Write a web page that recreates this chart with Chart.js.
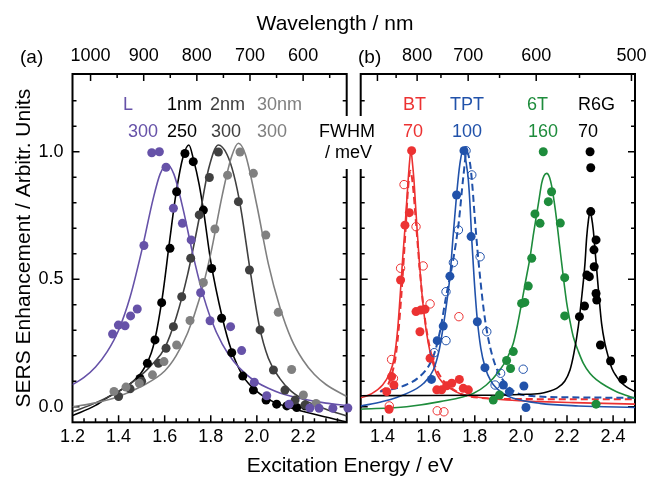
<!DOCTYPE html>
<html>
<head>
<meta charset="utf-8">
<script src="https://cdn.jsdelivr.net/npm/chart.js@4.4.1/dist/chart.umd.min.js"></script>
<style>
  html, body { margin: 0; padding: 0; background: #fff; }
  #wrap { position: relative; width: 647px; height: 477px; font-family: "Liberation Sans", Arial, sans-serif; }
  #wrap canvas { position: absolute; left: 0; top: 0; }
  .t { position: absolute; white-space: nowrap; line-height: 1; font-size: 18px; color: #000; }
  .big { font-size: 21px; transform: translateX(-50%); }
  .purple { color: #6652a8; }
  .dgray { color: #404040; }
  .gray { color: #808080; }
  .red { color: #ec3232; }
  .blue { color: #2152aa; }
  .green { color: #1e8c3c; }
  #fwhm { position: absolute; left: 316px; top: 116px; width: 62px; height: 53px; background: #fff; }
</style>
</head>
<body>
<div id="wrap">
  <canvas id="chartA" width="647" height="477"></canvas>
  <canvas id="chartB" width="647" height="477"></canvas>

  <div class="t big" style="left:335px; top:12px;">Wavelength / nm</div>
  <div class="t big" style="left:350px; top:454px;">Excitation Energy / eV</div>
  <div class="t" style="left:20px; top:47px; font-size:19px;">(a)</div>
  <div class="t" style="left:358px; top:47px; font-size:19px;">(b)</div>

  <div class="t purple" style="left:123px; top:95px;">L</div>
  <div class="t purple" style="left:128px; top:122px;">300</div>
  <div class="t" style="left:167px; top:95px;">1nm</div>
  <div class="t" style="left:167px; top:122px;">250</div>
  <div class="t dgray" style="left:210px; top:95px;">2nm</div>
  <div class="t dgray" style="left:211px; top:122px;">300</div>
  <div class="t gray" style="left:257px; top:95px;">30nm</div>
  <div class="t gray" style="left:257px; top:122px;">300</div>

  <div id="fwhm"></div>
  <div class="t" style="left:319px; top:122px;">FWHM</div>
  <div class="t" style="left:325px; top:143px;">/ meV</div>

  <div class="t red" style="left:403px; top:95px;">BT</div>
  <div class="t red" style="left:403px; top:122px;">70</div>
  <div class="t blue" style="left:450px; top:95px;">TPT</div>
  <div class="t blue" style="left:452px; top:122px;">100</div>
  <div class="t green" style="left:527px; top:95px;">6T</div>
  <div class="t green" style="left:528px; top:122px;">160</div>
  <div class="t" style="left:578px; top:95px;">R6G</div>
  <div class="t" style="left:578px; top:122px;">70</div>
</div>

<script>
const HC = 1239.84;

// tick labels
const eLabelsA = ['1.2', '1.4', '1.6', '1.8', '2.0', '2.2'];
const eLabelsB = ['1.4', '1.6', '1.8', '2.0', '2.2', '2.4'];
const wlLabelsA = ['1000', '900', '800', '700', '600'];
const wlLabelsB = ['800', '700', '600', '500'];
const yLabels = ['0.0', '0.5', '1.0'];

// ---- panel (a): fitted curves
const fitL_E = [1.20, 1.25, 1.30, 1.35, 1.40, 1.45, 1.50, 1.55, 1.58, 1.61, 1.64, 1.68, 1.72, 1.76, 1.80, 1.85, 1.90, 1.95, 2.00, 2.05, 2.10, 2.20, 2.30, 2.39];
const fitL_Y = [0.086, 0.115, 0.156, 0.215, 0.30, 0.43, 0.61, 0.815, 0.912, 0.95, 0.912, 0.775, 0.607, 0.46, 0.346, 0.245, 0.177, 0.13, 0.096, 0.072, 0.054, 0.03, 0.014, 0.005];

const fit1_E = [1.20, 1.30, 1.35, 1.40, 1.45, 1.50, 1.55, 1.59, 1.62, 1.65, 1.68, 1.705, 1.725, 1.75, 1.77, 1.80, 1.85, 1.89, 1.94, 2.00, 2.07, 2.15, 2.25, 2.39];
const fit1_Y = [-0.035, 0.005, 0.035, 0.06, 0.09, 0.135, 0.235, 0.43, 0.64, 0.84, 0.98, 1.026, 0.97, 0.87, 0.76, 0.57, 0.35, 0.22, 0.12, 0.06, 0.02, -0.005, -0.03, -0.06];

const fit2_E = [1.20, 1.30, 1.40, 1.50, 1.55, 1.60, 1.65, 1.70, 1.75, 1.79, 1.833, 1.87, 1.90, 1.93, 1.97, 2.01, 2.05, 2.10, 2.15, 2.22, 2.30, 2.39];
const fit2_Y = [-0.02, 0.015, 0.06, 0.125, 0.17, 0.23, 0.35, 0.52, 0.74, 0.93, 1.026, 0.99, 0.91, 0.78, 0.54, 0.32, 0.19, 0.11, 0.06, 0.02, -0.01, -0.036];

const fit30_E = [1.20, 1.30, 1.40, 1.50, 1.60, 1.65, 1.70, 1.75, 1.80, 1.85, 1.89, 1.92, 1.95, 2.00, 2.05, 2.10, 2.15, 2.20, 2.25, 2.30, 2.39];
const fit30_Y = [0.0, 0.015, 0.04, 0.08, 0.14, 0.20, 0.29, 0.42, 0.60, 0.83, 0.98, 1.033, 0.99, 0.79, 0.56, 0.39, 0.265, 0.183, 0.126, 0.087, 0.04];

// ---- panel (a): measured points
const dotsL_E = [1.374, 1.399, 1.428, 1.452, 1.481, 1.51, 1.544, 1.577, 1.606, 1.638, 1.677, 1.715, 1.756, 1.797, 1.886, 1.934, 1.989, 2.043, 2.14, 2.23, 2.27, 2.33, 2.395];
const dotsL_Y = [0.285, 0.32, 0.317, 0.356, 0.383, 0.632, 0.996, 1.0, 0.939, 0.778, 0.719, 0.654, 0.447, 0.337, 0.314, 0.22, 0.096, 0.043, 0.01, -0.005, -0.006, -0.006, -0.005];

const dots1_E = [1.493, 1.525, 1.558, 1.587, 1.623, 1.652, 1.688, 1.724, 1.768, 1.804, 1.847, 1.891, 1.939, 1.985, 2.04, 2.086, 2.13, 2.173, 2.209];
const dots1_Y = [0.111, 0.17, 0.262, 0.408, 0.621, 0.843, 0.993, 0.961, 0.771, 0.542, 0.347, 0.212, 0.12, 0.065, 0.026, 0.01, 0.003, -0.003, 0.003];

const dots2_E = [1.40, 1.45, 1.50, 1.573, 1.606, 1.638, 1.674, 1.713, 1.75, 1.794, 1.833, 1.92, 1.968, 2.014, 2.072, 2.122, 2.166, 2.209];
const dots2_Y = [0.04, 0.07, 0.10, 0.17, 0.229, 0.314, 0.431, 0.582, 0.752, 0.899, 0.999, 0.804, 0.536, 0.301, 0.144, 0.065, 0.026, 0.007];

const dots30_E = [1.38, 1.432, 1.49, 1.547, 1.597, 1.652, 1.71, 1.768, 1.818, 1.873, 1.927, 1.985, 2.039, 2.093, 2.151, 2.202, 2.257];
const dots30_Y = [0.06, 0.077, 0.092, 0.125, 0.177, 0.242, 0.338, 0.487, 0.697, 0.908, 0.999, 0.915, 0.673, 0.37, 0.146, 0.046, 0.013];

// ---- panel (b): fitted curves
const fitBT_E = [1.305, 1.35, 1.40, 1.43, 1.45, 1.465, 1.475, 1.487, 1.497, 1.505, 1.511, 1.517, 1.523, 1.529, 1.536, 1.543, 1.55, 1.56, 1.569, 1.583, 1.598, 1.615, 1.634, 1.66, 1.692, 1.74, 1.793, 1.86, 1.938, 2.083, 2.227, 2.495];
const fitBT_Y = [0.035, 0.05, 0.085, 0.13, 0.19, 0.30, 0.42, 0.58, 0.70, 0.81, 0.89, 0.96, 1.006, 0.96, 0.89, 0.79, 0.69, 0.56, 0.46, 0.34, 0.25, 0.18, 0.13, 0.095, 0.072, 0.05, 0.04, 0.032, 0.026, 0.02, 0.016, 0.01];

const fitBTd_E = [1.39, 1.43, 1.46, 1.48, 1.50, 1.51, 1.52, 1.53, 1.545, 1.56, 1.58, 1.61, 1.65, 1.72, 1.82, 2.0, 2.495];
const fitBTd_Y = [0.058, 0.10, 0.22, 0.42, 0.70, 0.85, 0.925, 0.88, 0.72, 0.55, 0.37, 0.21, 0.12, 0.06, 0.035, 0.03, 0.029];

const fitTPT_E = [1.305, 1.40, 1.50, 1.577, 1.62, 1.645, 1.663, 1.68, 1.692, 1.706, 1.721, 1.735, 1.75, 1.762, 1.772, 1.78, 1.786, 1.798, 1.811, 1.826, 1.844, 1.87, 1.895, 1.93, 1.967, 2.083, 2.25, 2.495];
const fitTPT_Y = [0.003, 0.02, 0.05, 0.091, 0.144, 0.22, 0.314, 0.42, 0.51, 0.67, 0.83, 0.95, 1.009, 0.96, 0.889, 0.78, 0.667, 0.49, 0.34, 0.23, 0.157, 0.1, 0.072, 0.048, 0.033, 0.013, 0.003, -0.003];

const fitTPTd_E = [1.39, 1.45, 1.50, 1.55, 1.60, 1.625, 1.65, 1.675, 1.705, 1.73, 1.75, 1.765, 1.78, 1.79, 1.80, 1.812, 1.825, 1.84, 1.86, 1.89, 1.93, 1.98, 2.05, 2.2, 2.495];
const fitTPTd_Y = [0.06, 0.07, 0.085, 0.11, 0.16, 0.21, 0.30, 0.43, 0.57, 0.72, 0.90, 1.0, 0.95, 0.86, 0.74, 0.61, 0.49, 0.37, 0.26, 0.16, 0.095, 0.055, 0.042, 0.037, 0.035];

const fit6T_E = [1.305, 1.504, 1.649, 1.793, 1.85, 1.909, 1.94, 1.967, 1.985, 2.003, 2.02, 2.04, 2.055, 2.069, 2.08, 2.09, 2.1, 2.112, 2.124, 2.134, 2.145, 2.155, 2.166, 2.177, 2.188, 2.199, 2.213, 2.227, 2.25, 2.271, 2.3, 2.329, 2.37, 2.415, 2.495];
const fit6T_Y = [-0.01, 0.0, 0.02, 0.052, 0.085, 0.144, 0.19, 0.249, 0.32, 0.405, 0.49, 0.588, 0.68, 0.758, 0.82, 0.876, 0.905, 0.915, 0.9, 0.863, 0.80, 0.732, 0.645, 0.562, 0.48, 0.405, 0.335, 0.275, 0.215, 0.17, 0.13, 0.105, 0.08, 0.059, 0.033];

const fitR6G_E = [1.305, 1.6, 1.8, 1.938, 2.0, 2.083, 2.12, 2.155, 2.19, 2.213, 2.23, 2.249, 2.265, 2.278, 2.285, 2.293, 2.3, 2.307, 2.314, 2.321, 2.329, 2.339, 2.35, 2.364, 2.379, 2.395, 2.415, 2.435, 2.458, 2.495];
const fitR6G_Y = [0.043, 0.044, 0.045, 0.046, 0.048, 0.052, 0.06, 0.072, 0.10, 0.144, 0.21, 0.314, 0.44, 0.562, 0.66, 0.732, 0.765, 0.74, 0.693, 0.62, 0.536, 0.43, 0.327, 0.25, 0.196, 0.15, 0.118, 0.095, 0.078, 0.059];

// ---- panel (b): measured points
const dotsBT_E = [1.526, 1.516, 1.497, 1.478, 1.545, 1.566, 1.584, 1.562, 1.606, 1.439, 1.449, 1.418, 1.428, 1.635, 1.656, 1.678, 1.70, 1.733, 1.75, 1.772];
const dotsBT_Y = [1.004, 0.761, 0.712, 0.497, 0.373, 0.379, 0.382, 0.294, 0.19, 0.118, 0.085, 0.059, -0.01, 0.066, 0.066, 0.082, 0.092, 0.107, 0.072, 0.066];
const openBT_E = [1.493, 1.545, 1.478, 1.576, 1.606, 1.439, 1.447, 1.429, 1.637, 1.666, 1.731];
const openBT_Y = [0.871, 0.706, 0.543, 0.552, 0.403, 0.185, 0.111, 0.003, -0.016, -0.02, 0.353];

const dotsTPT_E = [1.753, 1.721, 1.784, 1.692, 1.663, 1.637, 1.612, 1.811, 1.844, 1.924, 1.95, 2.013, 2.022];
const dotsTPT_Y = [1.004, 0.83, 0.667, 0.512, 0.316, 0.259, 0.107, 0.333, 0.153, 0.085, 0.059, 0.081, -0.003];
const openTPT_E = [1.762, 1.787, 1.729, 1.823, 1.707, 1.675, 1.675, 1.624, 1.852, 1.912, 1.888, 2.01];
const openTPT_Y = [1.004, 0.909, 0.693, 0.588, 0.565, 0.451, 0.259, 0.212, 0.294, 0.131, 0.085, 0.147];

const dots6T_E = [2.097, 2.133, 2.119, 2.083, 2.061, 2.171, 2.047, 2.19, 2.032, 2.003, 2.017, 2.19, 1.967, 1.938, 1.955, 1.907, 1.88, 2.326];
const dots6T_Y = [1.0, 0.843, 0.804, 0.719, 0.756, 0.72, 0.582, 0.506, 0.473, 0.405, 0.409, 0.356, 0.216, 0.181, 0.15, 0.046, 0.026, 0.01];

const dotsR6G_E = [2.30, 2.303, 2.303, 2.326, 2.317, 2.318, 2.286, 2.297, 2.326, 2.329, 2.276, 2.254, 2.345, 2.389, 2.442];
const dotsR6G_Y = [1.0, 0.937, 0.765, 0.654, 0.615, 0.549, 0.516, 0.51, 0.444, 0.418, 0.395, 0.353, 0.242, 0.179, 0.107];

const C = {
  purple: '#6652a8', black: '#000000', dgray: '#404040', gray: '#808080',
  red: '#ec3232', blue: '#2152aa', green: '#1e8c3c'
};

Chart.defaults.font.family = '"Liberation Sans", Arial, sans-serif';
Chart.defaults.color = '#000';

function pts(xs, ys) { return xs.map((x, i) => ({ x: x, y: ys[i] })); }
function isMul(v, s) { return Math.abs(v / s - Math.round(v / s)) < 1e-6; }
function steps(a, b, s) {
  const out = [];
  for (let v = a; v <= b + 1e-9; v += s) out.push(Math.round(v * 1000) / 1000);
  return out;
}

function fitLine(xs, ys, color, dashed) {
  return {
    type: 'line', data: pts(xs, ys), borderColor: color,
    borderWidth: dashed ? 2 : 1.6, borderDash: dashed ? [7, 4] : [],
    pointRadius: 0, fill: false, cubicInterpolationMode: 'monotone', order: 2
  };
}
function dots(xs, ys, color, open) {
  return {
    type: 'scatter', data: pts(xs, ys),
    pointRadius: open ? 4.2 : 4.5, pointBorderWidth: open ? 1 : 0,
    pointBorderColor: color, pointBackgroundColor: open ? 'rgba(255,255,255,0)' : color,
    order: 1, clip: false
  };
}

// frame + inward ticks drawn from the scales
function frameTicks(axes) {
  return {
    id: 'frameTicks',
    beforeDatasetsDraw(chart) {
      const { ctx, chartArea: a } = chart;
      ctx.save();
      ctx.strokeStyle = '#000';
      ctx.lineWidth = 1.5;
      ctx.beginPath();
      for (const ax of axes) {
        const s = chart.scales[ax.id];
        for (const t of s.ticks) {
          const p = s.getPixelForValue(t.value);
          const len = ax.major(t.value) ? 7 : 4;
          if (ax.side === 'bottom' || ax.side === 'top') {
            if (p < a.left + 1 || p > a.right - 1) continue;
            const y0 = ax.side === 'bottom' ? a.bottom : a.top;
            ctx.moveTo(p, y0);
            ctx.lineTo(p, ax.side === 'bottom' ? y0 - len : y0 + len);
          } else {
            if (p < a.top + 1 || p > a.bottom - 1) continue;
            const x0 = ax.side === 'left' ? a.left : a.right;
            ctx.moveTo(x0, p);
            ctx.lineTo(ax.side === 'left' ? x0 + len : x0 - len, p);
          }
        }
      }
      ctx.stroke();
      ctx.lineWidth = 2;
      ctx.strokeRect(a.left, a.top, a.right - a.left, a.bottom - a.top);
      ctx.restore();
    }
  };
}

const Y_MIN = -0.0612, Y_MAX = 1.3047;
const yMajor = v => isMul(v, 0.5);
const eMajor = v => isMul(v, 0.2);

function baseAxis(extra) {
  return Object.assign({
    grid: { display: false, drawTicks: false },
    border: { display: false }
  }, extra);
}

const yAxis = (showLabels) => baseAxis({
  type: 'linear', position: 'left', min: Y_MIN, max: Y_MAX,
  afterBuildTicks: s => { s.ticks = steps(0, 1.2, 0.1).map(v => ({ value: v })); },
  ticks: {
    display: showLabels, autoSkip: false, padding: 9, font: { size: 18 },
    callback: v => (yMajor(v) && yLabels.includes(v.toFixed(1))) ? v.toFixed(1) : ''
  },
  title: showLabels ? {
    display: true, text: 'SERS Enhancement / Arbitr. Units', font: { size: 21 },
    padding: { top: 12, bottom: 0 }
  } : { display: false },
  afterFit: s => { s.width = showLabels ? 72.5 : 0; }
});

// ---------- panel (a)
new Chart(document.getElementById('chartA'), {
  type: 'scatter',
  data: {
    datasets: [
      dots(dotsL_E, dotsL_Y, C.purple),
      dots(dots30_E, dots30_Y, C.gray),
      dots(dots2_E, dots2_Y, C.dgray),
      dots(dots1_E, dots1_Y, C.black),
      fitLine(fitL_E, fitL_Y, C.purple),
      fitLine(fit30_E, fit30_Y, C.gray),
      fitLine(fit2_E, fit2_Y, C.dgray),
      fitLine(fit1_E, fit1_Y, C.black)
    ]
  },
  options: {
    responsive: false, animation: false, events: [],
    layout: { padding: { left: 0, right: 300.3, top: 0, bottom: 0 } },
    plugins: { legend: { display: false }, tooltip: { enabled: false } },
    scales: {
      x: baseAxis({
        type: 'linear', position: 'bottom', min: 1.2, max: 2.39,
        afterBuildTicks: s => { s.ticks = steps(1.2, 2.35, 0.05).map(v => ({ value: v })); },
        ticks: {
          autoSkip: false, maxRotation: 0, padding: 4, font: { size: 18 },
          callback: v => (eMajor(v) && eLabelsA.includes(v.toFixed(1))) ? v.toFixed(1) : ''
        },
        afterFit: s => { s.height = 54.7; }
      }),
      x2: baseAxis({
        type: 'linear', position: 'top', min: 518, max: 1034, reverse: true,
        afterBuildTicks: s => { s.ticks = steps(550, 1000, 50).map(v => ({ value: v })); },
        ticks: {
          autoSkip: false, maxRotation: 0, padding: 7, font: { size: 18 },
          callback: v => wlLabelsA.includes(String(v)) ? String(v) : ''
        },
        afterFit: s => { s.height = 74; }
      }),
      y: yAxis(true)
    }
  },
  plugins: [frameTicks([
    { id: 'x', side: 'bottom', major: eMajor },
    { id: 'x2', side: 'top', major: v => v % 100 === 0 },
    { id: 'y', side: 'left', major: yMajor },
    { id: 'y', side: 'right', major: yMajor }
  ])]
});

// ---------- panel (b)
const wlMajor = v => Math.round(HC / v) % 100 === 0;
new Chart(document.getElementById('chartB'), {
  type: 'scatter',
  data: {
    datasets: [
      dots(dotsR6G_E, dotsR6G_Y, C.black),
      dots(dots6T_E, dots6T_Y, C.green),
      dots(dotsTPT_E, dotsTPT_Y, C.blue),
      dots(openTPT_E, openTPT_Y, C.blue, true),
      dots(dotsBT_E, dotsBT_Y, C.red),
      dots(openBT_E, openBT_Y, C.red, true),
      fitLine(fitR6G_E, fitR6G_Y, C.black),
      fitLine(fit6T_E, fit6T_Y, C.green),
      fitLine(fitTPTd_E, fitTPTd_Y, C.blue, true),
      fitLine(fitTPT_E, fitTPT_Y, C.blue),
      fitLine(fitBTd_E, fitBTd_Y, C.red, true),
      fitLine(fitBT_E, fitBT_Y, C.red)
    ]
  },
  options: {
    responsive: false, animation: false, events: [],
    layout: { padding: { left: 360.7, right: 12, top: 0, bottom: 0 } },
    plugins: { legend: { display: false }, tooltip: { enabled: false } },
    scales: {
      x: baseAxis({
        type: 'linear', position: 'bottom', min: 1.305, max: 2.495,
        afterBuildTicks: s => { s.ticks = steps(1.35, 2.45, 0.05).map(v => ({ value: v })); },
        ticks: {
          autoSkip: false, maxRotation: 0, padding: 4, font: { size: 18 },
          callback: v => (eMajor(v) && eLabelsB.includes(v.toFixed(1))) ? v.toFixed(1) : ''
        },
        afterFit: s => { s.height = 54.7; }
      }),
      x2: baseAxis({
        type: 'linear', position: 'top', min: 1.305, max: 2.495,
        afterBuildTicks: s => { s.ticks = steps(500, 900, 50).map(l => ({ value: HC / l })); },
        ticks: {
          autoSkip: false, maxRotation: 0, padding: 7, font: { size: 18 },
          callback: v => {
            const l = String(Math.round(HC / v));
            return wlLabelsB.includes(l) ? l : '';
          }
        },
        afterFit: s => { s.height = 74; }
      }),
      y: yAxis(false)
    }
  },
  plugins: [frameTicks([
    { id: 'x', side: 'bottom', major: eMajor },
    { id: 'x2', side: 'top', major: wlMajor },
    { id: 'y', side: 'left', major: yMajor },
    { id: 'y', side: 'right', major: yMajor }
  ])]
});
</script>
</body>
</html>
